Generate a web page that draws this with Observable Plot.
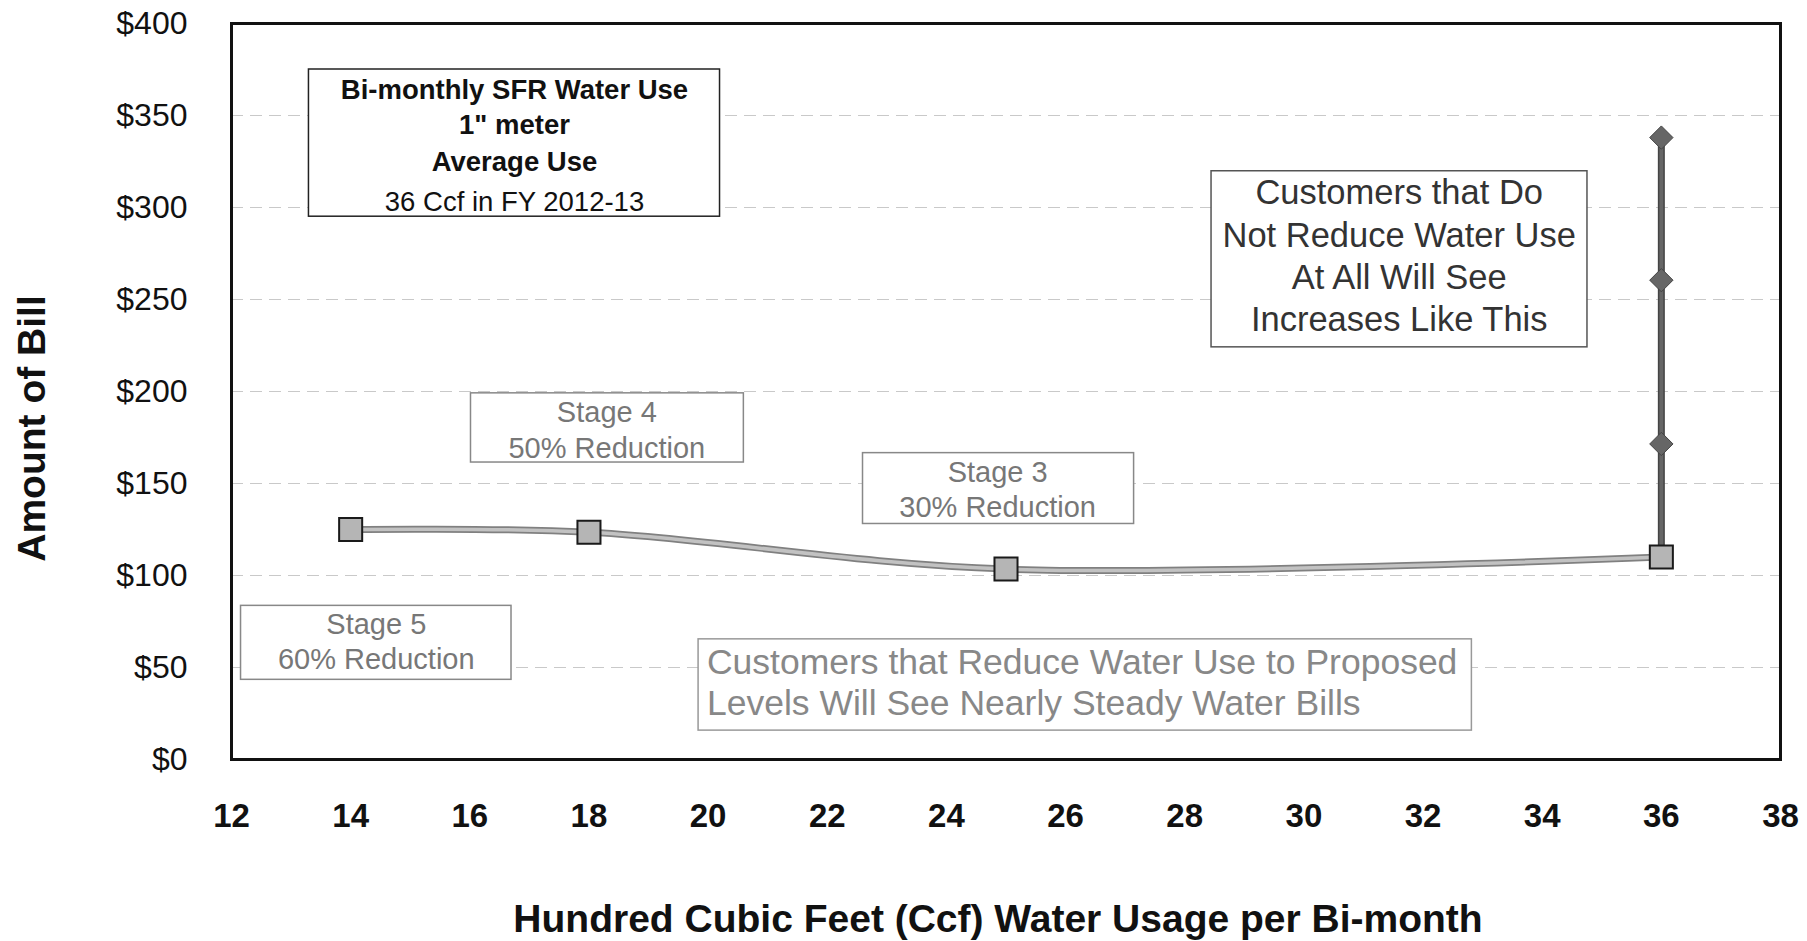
<!DOCTYPE html>
<html>
<head>
<meta charset="utf-8">
<script src="https://cdn.jsdelivr.net/npm/d3@7"></script>
<script src="https://cdn.jsdelivr.net/npm/@observablehq/plot@0.6"></script>
<style>
  html, body { margin: 0; padding: 0; background: #fff; }
  #chart svg { display: block; font-family: "Liberation Sans", Arial, sans-serif; }
</style>
</head>
<body>
<div id="chart"></div>
<script>
// Reduced-use series (Ccf per bi-month vs. bill)
const usage = [14, 18, 25, 36];
const bill = [125, 123.5, 103.5, 110];
// No-reduction series at 36 Ccf
const noReduceUsage = [36, 36, 36, 36];
const noReduceBill = [110, 171.5, 260.5, 338];
// Axis ticks
const xTicks = [12, 14, 16, 18, 20, 22, 24, 26, 28, 30, 32, 34, 36, 38];
const yTicks = [0, 50, 100, 150, 200, 250, 300, 350, 400];
// Annotation boxes (data coordinates)
const boxX1 = [13.3, 28.45, 16.02, 22.6, 12.16, 19.84];
const boxX2 = [20.2, 34.76, 20.6, 27.15, 16.7, 32.82];
const boxY1 = [295, 224, 161.4, 128, 43.3, 15.7];
const boxY2 = [375, 319.7, 199, 166.5, 83.5, 65.3];
const boxStroke = ["#222", "#555", "#888", "#888", "#888", "#999"];
// Annotation text lines
const noteText = [
  "Bi-monthly SFR Water Use", "1\" meter", "Average Use", "36 Ccf in FY 2012-13",
  "Customers that Do", "Not Reduce Water Use", "At All Will See", "Increases Like This",
  "Stage 4", "50% Reduction",
  "Stage 3", "30% Reduction",
  "Stage 5", "60% Reduction",
  "Customers that Reduce Water Use to Proposed", "Levels Will See Nearly Steady Water Bills"
];
const noteX = [16.75, 16.75, 16.75, 16.75, 31.6, 31.6, 31.6, 31.6, 18.3, 18.3, 24.86, 24.86, 14.43, 14.43, 19.98, 19.98];
const noteY = [364, 344.5, 324.5, 303, 307.8, 284.5, 261.9, 238.7, 188.4, 169, 155.8, 137, 73.5, 54, 52.8, 30.2];
const noteGroup = ["b", "b", "b", "r", "do", "do", "do", "do", "s", "s", "s", "s", "s", "s", "red", "red"];

const main = usage.map((x, i) => ({x, y: bill[i]}));
const noReduce = noReduceUsage.map((x, i) => ({x, y: noReduceBill[i]}));
const boxes = boxX1.map((x1, i) => ({x1, x2: boxX2[i], y1: boxY1[i], y2: boxY2[i], stroke: boxStroke[i]}));
const notes = noteText.map((t, i) => ({t, x: noteX[i], y: noteY[i], g: noteGroup[i]}));
const noteStyle = {
  b:   {fill: "#111", fontSize: 27.5, fontWeight: "bold", textAnchor: "middle"},
  r:   {fill: "#111", fontSize: 27.5, fontWeight: "normal", textAnchor: "middle"},
  do:  {fill: "#333", fontSize: 34.5, fontWeight: "normal", textAnchor: "middle"},
  s:   {fill: "#777", fontSize: 29, fontWeight: "normal", textAnchor: "middle"},
  red: {fill: "#888", fontSize: 35.5, fontWeight: "normal", textAnchor: "start"}
};

const noteMarks = Object.keys(noteStyle).map(g =>
  Plot.text(notes.filter(d => d.g === g), {x: "x", y: "y", text: "t", ...noteStyle[g]})
);

const chart = Plot.plot({
  width: 1807,
  height: 941,
  marginLeft: 231,
  marginRight: 27,
  marginTop: 23,
  marginBottom: 182,
  style: {fontFamily: "'Liberation Sans', Arial, sans-serif", background: "#fff", color: "#111"},
  x: {domain: [12, 38]},
  y: {domain: [0, 400]},
  marks: [
    Plot.gridY(yTicks, {stroke: "#bbb", strokeOpacity: 0.8, strokeDasharray: "12,7"}),
    Plot.rect(boxes, {x1: "x1", x2: "x2", y1: "y1", y2: "y2", fill: "white", stroke: "stroke", strokeWidth: 1.5}),
    ...noteMarks,
    Plot.line(main, {x: "x", y: "y", curve: "catmull-rom", stroke: "#808080", strokeWidth: 7}),
    Plot.line(main, {x: "x", y: "y", curve: "catmull-rom", stroke: "#c2c2c2", strokeWidth: 3.5}),
    Plot.line(noReduce, {x: "x", y: "y", stroke: "#444", strokeWidth: 7}),
    Plot.line(noReduce, {x: "x", y: "y", stroke: "#666", strokeWidth: 4}),
    Plot.dot(noReduce.slice(1), {x: "x", y: "y", symbol: "diamond2", r: 10.5, fill: "#666", stroke: "#444", strokeWidth: 1}),
    Plot.dot(main, {x: "x", y: "y", symbol: "square", r: 13, fill: "#b5b5b5", stroke: "#1a1a1a", strokeWidth: 2}),
    Plot.frame({stroke: "#111", strokeWidth: 3}),
    Plot.axisY({ticks: yTicks, tickFormat: d => "$" + d, tickSize: 0, tickPadding: 44, fontSize: 32, fill: "#111", label: null}),
    Plot.axisX({ticks: xTicks, tickFormat: d => String(d), tickSize: 0, tickPadding: 44, fontSize: 33, fontWeight: "bold", fill: "#111", label: null}),
    Plot.text(["Amount of Bill"], {frameAnchor: "left", text: d => d, rotate: -90, textAnchor: "middle", dx: -199, dy: 37, fontSize: 39, fontWeight: "bold", fill: "#111"}),
    Plot.text(["Hundred Cubic Feet (Ccf) Water Usage per Bi-month"], {frameAnchor: "bottom", text: d => d, dy: 172, dx: -8, fontSize: 39, fontWeight: "bold", fill: "#111"})
  ]
});
document.getElementById("chart").appendChild(chart);
</script>
</body>
</html>
